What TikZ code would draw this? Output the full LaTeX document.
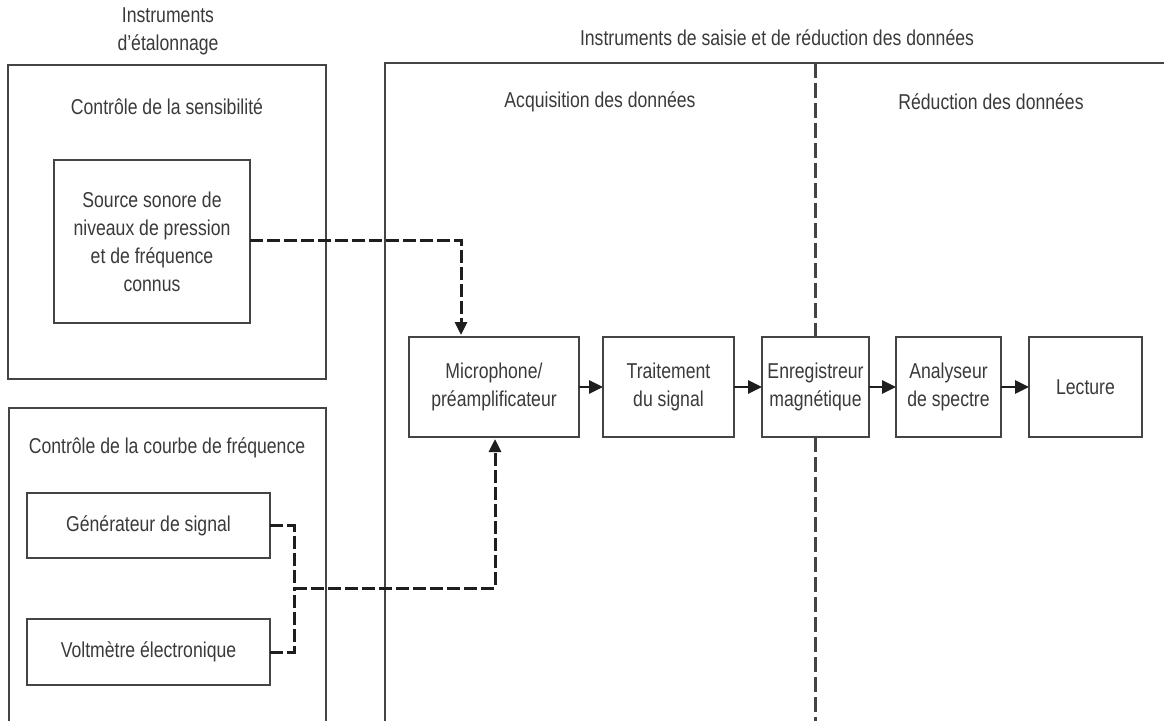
\documentclass[tikz,border=0pt]{standalone}
\usepackage{fontspec}
\setmainfont{Liberation Sans}[FakeStretch=0.82]
\usetikzlibrary{arrows.meta}
\definecolor{txt}{HTML}{3A3A3A}
\definecolor{ln}{HTML}{444444}
\definecolor{dk}{HTML}{1E1E1E}
\begin{document}
\begin{tikzpicture}[x=1pt,y=-1pt,
  every node/.style={font=\fontsize{21.5}{28}\selectfont, text=txt},
  lbl/.style={inner sep=0pt, align=center},
  blk/.style={draw=ln, line width=1.8pt, fill=white, inner sep=0pt, outer sep=0pt, align=center},
  frame/.style={draw=ln, line width=1.8pt},
  flow/.style={draw=dk, line width=2.8pt, -{Triangle[length=14pt,width=13pt]}},
  link/.style={draw=dk, line width=3pt, dash pattern=on 13pt off 4pt},
  linkarrow/.style={link, -{Triangle[length=13pt,width=12pt]}},
  divider/.style={draw=ln, line width=2.2pt, dash pattern=on 15pt off 5pt}]
\useasboundingbox (0,0) rectangle (1164,721);

% frames
\node[frame, minimum width=318pt, minimum height=314pt, inner sep=0pt, outer sep=0pt] (f1) at (167,222) {};
\coordinate (f2a) at (9,721);
\coordinate (f2b) at (9,408);
\coordinate (f2c) at (326,408);
\coordinate (f2d) at (326,721);
\draw[frame] (f2a) -- (f2b) -- (f2c) -- (f2d);
\coordinate (f3a) at (1164,63);
\coordinate (f3b) at (385,63);
\coordinate (f3c) at (385,721);
\draw[frame] (f3a) -- (f3b) -- (f3c);

% titles
\node[lbl] (t1) at (168,31) {Instruments\\d'étalonnage};
\node[lbl] (t2) at (777,38) {Instruments de saisie et de réduction des données};
\node[lbl] (t3) at (167,107) {Contrôle de la sensibilité};
\node[lbl] (t4) at (167,448) {Contrôle de la courbe de fréquence};
\node[lbl] (t5) at (600,102) {Acquisition des données};
\node[lbl] (t6) at (991,102) {Réduction des données};

% blocks
\node[blk, minimum width=196pt, minimum height=163pt] (src) at (152,241.5) {Source sonore de\\niveaux de pression\\et de fréquence\\connus};
\node[blk, minimum width=170pt, minimum height=100pt] (mic) at (494,387) {Microphone/\\préamplificateur};
\node[blk, minimum width=131pt, minimum height=100pt] (trt) at (668.5,387) {Traitement\\du signal};
\node[blk, minimum width=107pt, minimum height=100pt] (enr) at (815.5,387) {Enregistreur\\magnétique};
\node[blk, minimum width=105pt, minimum height=100pt] (ana) at (948.5,387) {Analyseur\\de spectre};
\node[blk, minimum width=113pt, minimum height=100pt] (lec) at (1085.5,387) {Lecture};
\node[blk, minimum width=243pt, minimum height=65pt] (gen) at (148.5,525.5) {Générateur de signal};
\node[blk, minimum width=243pt, minimum height=66pt] (vol) at (148.5,652) {Voltmètre électronique};

% divider
\coordinate (dtop) at (815.5,63);
\coordinate (dbot) at (815.5,721);
\draw[divider] (dtop) -- (enr.north);
\draw[divider] (enr.south) -- (dbot);

% flow arrows
\draw[flow] (mic.east) -- (trt.west);
\draw[flow] (trt.east) -- (enr.west);
\draw[flow] (enr.east) -- (ana.west);
\draw[flow] (ana.east) -- (lec.west);

% calibration links
\coordinate (c1) at (461,240);
\coordinate (c1e) at (461,335);
\draw[linkarrow] (src.east |- c1) -- (c1) -- (c1e);
\coordinate (j) at (294,588);
\coordinate (c2) at (495,588);
\coordinate (c2e) at (495,439);
\draw[link] (gen.east) -| (j);
\draw[link] (vol.east) -| (j);
\draw[linkarrow] (j) -- (c2) -- (c2e);
\end{tikzpicture}
\end{document}
